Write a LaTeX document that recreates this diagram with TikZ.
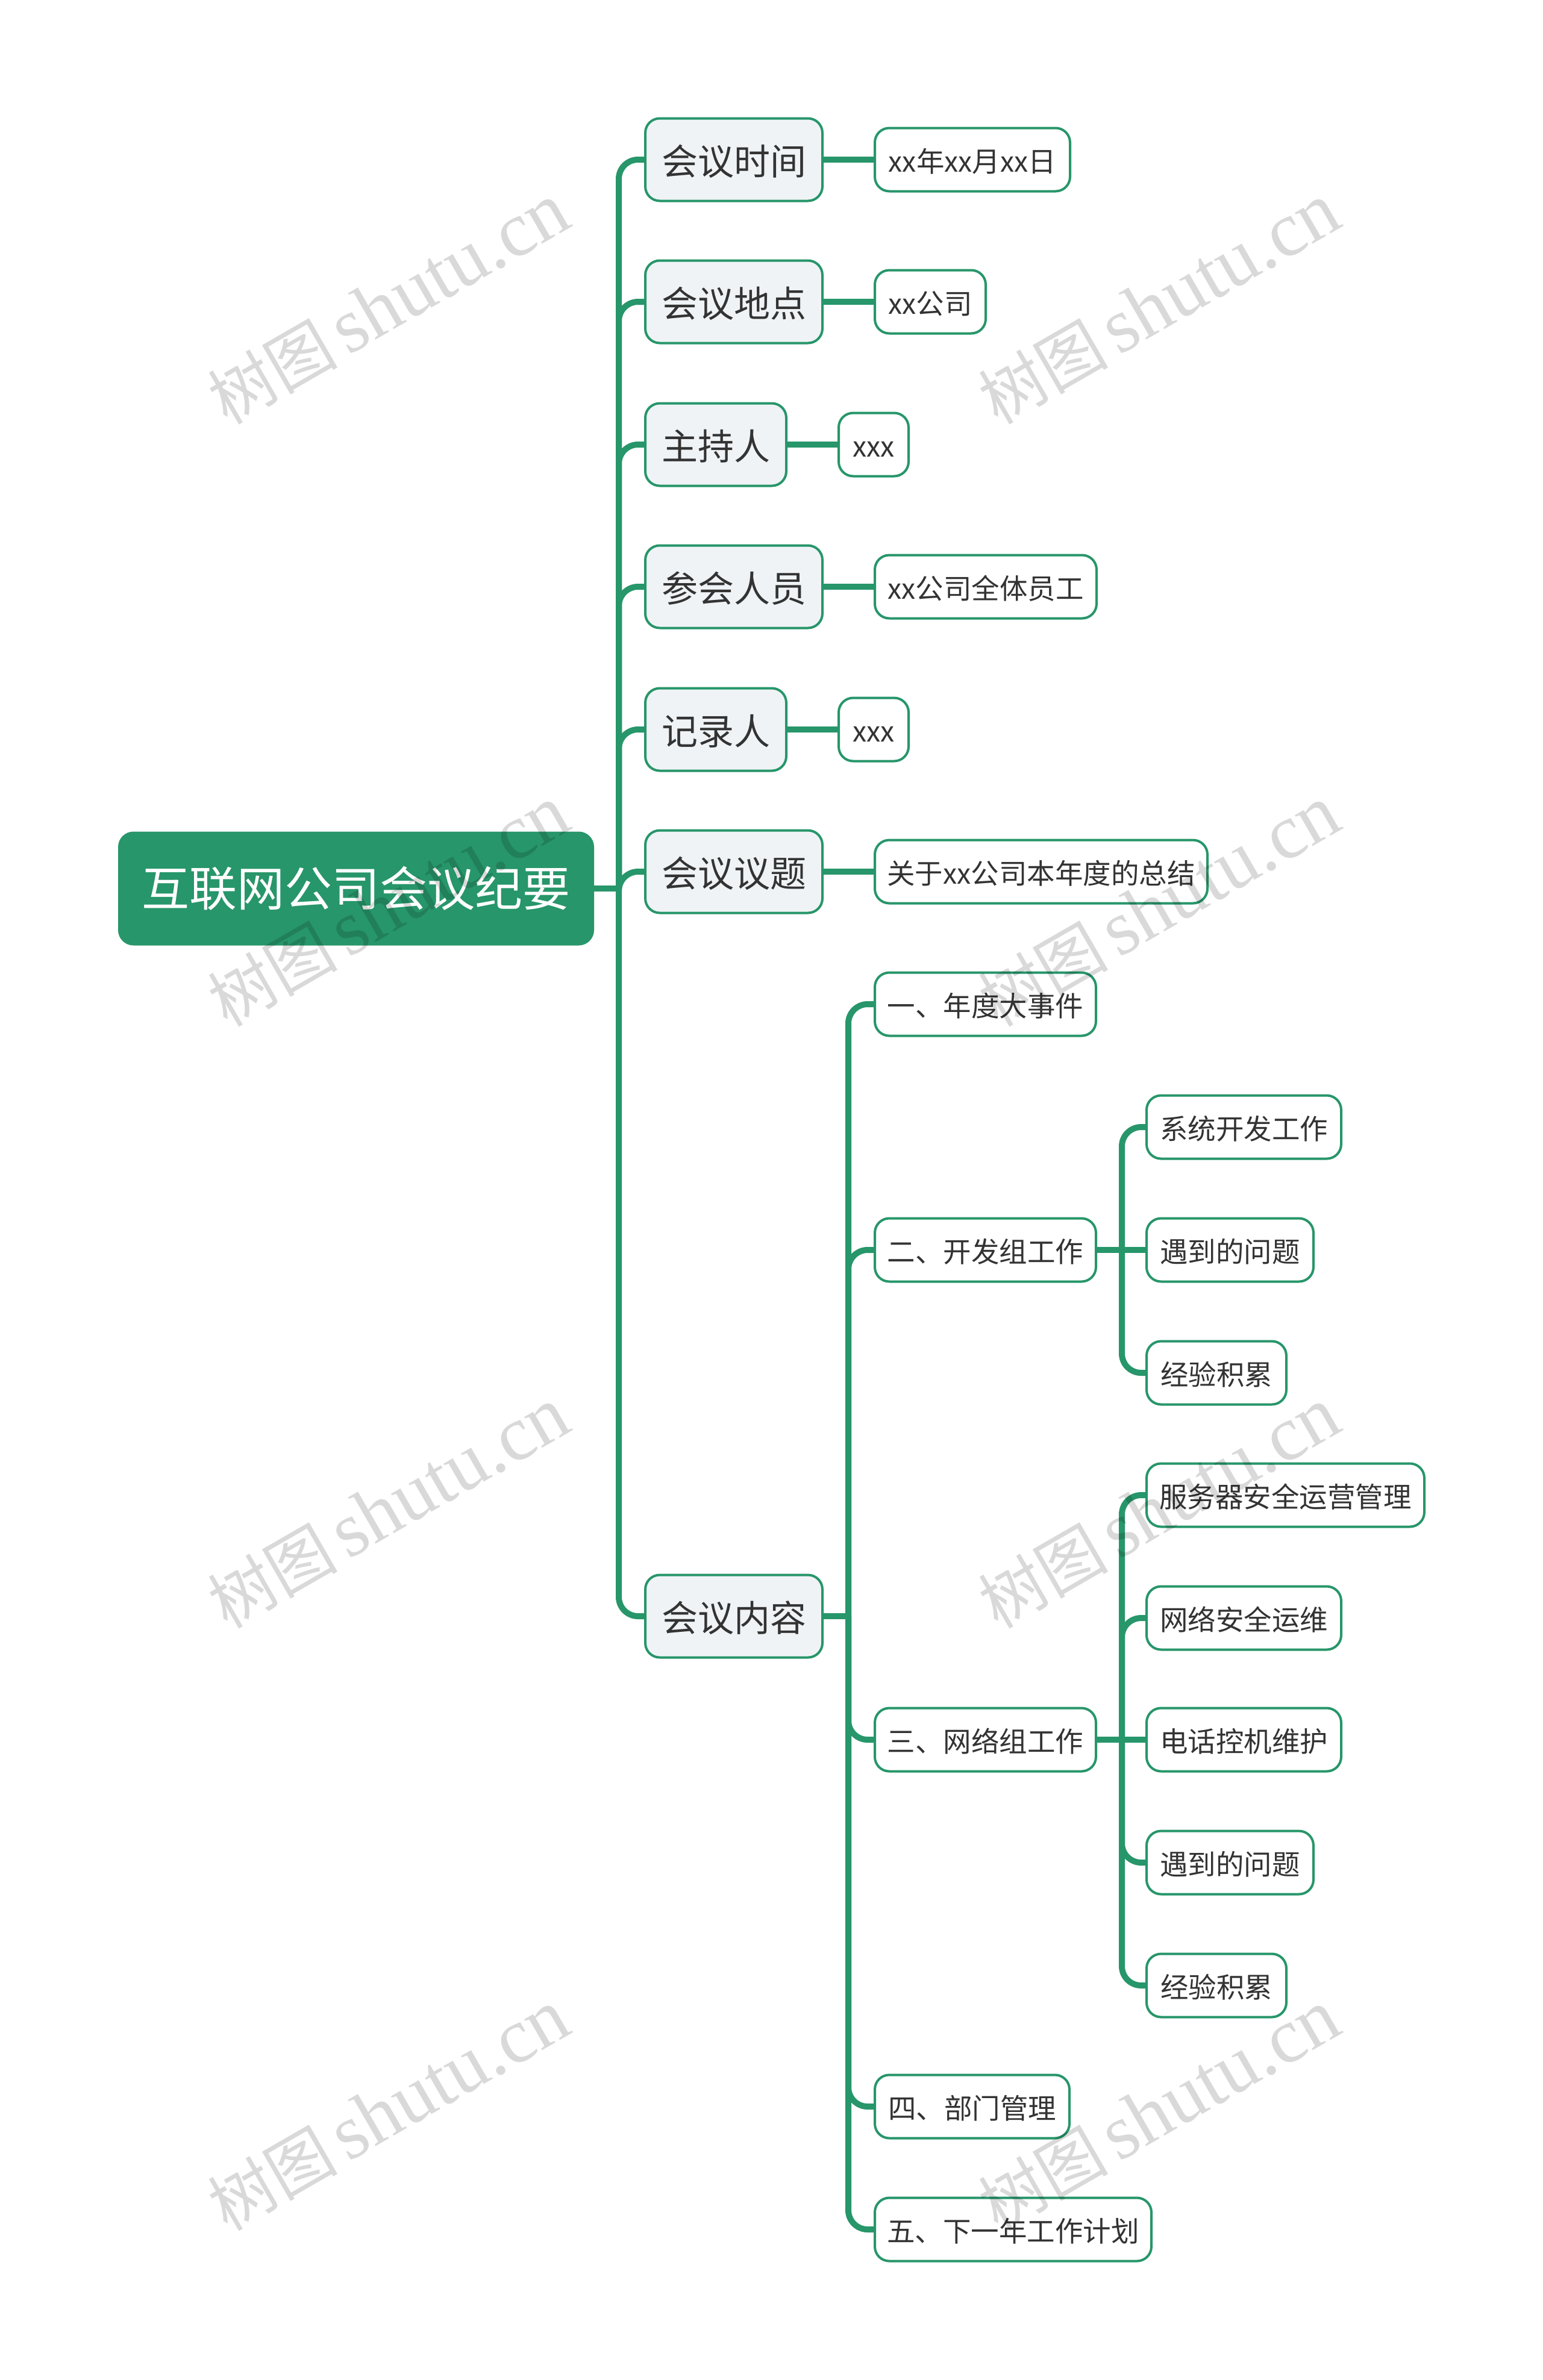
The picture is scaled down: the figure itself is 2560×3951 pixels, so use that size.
\documentclass[tikz,border=0pt]{standalone}
\usepackage{fontspec}
\setmainfont{Noto Sans CJK SC}
\newfontfamily\wmlatin{Liberation Serif}
\newfontfamily\wmcjk{Noto Sans CJK SC}
\definecolor{gr}{HTML}{27966A}
\definecolor{pale}{HTML}{EFF3F6}
\definecolor{ink}{HTML}{333333}
\tikzset{
  rootbox/.style={draw=gr,fill=gr,line width=3pt,rounded corners=24pt,text=white,inner sep=0pt,anchor=west,minimum height=186pt,font=\fontsize{79}{79}\selectfont},
  lone/.style={draw=gr,fill=pale,line width=4pt,rounded corners=24pt,text=ink,inner sep=0pt,anchor=west,minimum height=137pt,text height=56pt,text depth=5pt,font=\fontsize{60}{60}\selectfont},
  ltwo/.style={draw=gr,fill=white,line width=4pt,rounded corners=24pt,text=ink,inner sep=0pt,anchor=west,minimum height=105pt,text height=44pt,text depth=3pt,font=\fontsize{46.5}{46.5}\selectfont},
  conn/.style={draw=gr,line width=10pt,rounded corners=32pt},
  wm/.style={rotate=30,opacity=.15,text=black,inner sep=0pt}
}
\begin{document}
\begin{tikzpicture}[x=1pt,y=-1pt]
\useasboundingbox (0,0) rectangle (2560,3951);
\fill[white] (0,0) rectangle (2560,3951);
\coordinate (t1) at (1027,1475);
\coordinate (t2) at (1408,2683);
\coordinate (t3) at (1862,2075);
\coordinate (t4) at (1862,2888);
\node[rootbox,minimum width=787pt] (root) at (196,1475) {互联网公司会议纪要};
\node[lone,minimum width=294pt] (a1) at (1069,265) {会议时间};
\node[lone,minimum width=294pt] (a2) at (1069,501) {会议地点};
\node[lone,minimum width=234pt] (a3) at (1069,738) {主持人};
\node[lone,minimum width=294pt] (a4) at (1069,974) {参会人员};
\node[lone,minimum width=234pt] (a5) at (1069,1211) {记录人};
\node[lone,minimum width=294pt] (a6) at (1069,1447) {会议议题};
\node[lone,minimum width=294pt] (a7) at (1069,2683) {会议内容};
\node[ltwo,minimum width=324pt] (b1) at (1450,265) {xx年xx月xx日};
\node[ltwo,minimum width=184pt] (b2) at (1450,501) {xx公司};
\node[ltwo,minimum width=116pt] (b3) at (1390,738) {xxx};
\node[ltwo,minimum width=368pt] (b4) at (1450,974) {xx公司全体员工};
\node[ltwo,minimum width=116pt] (b5) at (1390,1211) {xxx};
\node[ltwo,minimum width=552pt] (b6) at (1450,1447) {关于xx公司本年度的总结};
\node[ltwo,minimum width=367pt] (c1) at (1450,1667) {一、年度大事件};
\node[ltwo,minimum width=367pt] (c2) at (1450,2075) {二、开发组工作};
\node[ltwo,minimum width=367pt] (c3) at (1450,2888) {三、网络组工作};
\node[ltwo,minimum width=323pt] (c4) at (1450,3497) {四、部门管理};
\node[ltwo,minimum width=459pt] (c5) at (1450,3701) {五、下一年工作计划};
\node[ltwo,minimum width=323pt] (d1) at (1901,1871) {系统开发工作};
\node[ltwo,minimum width=277pt] (d2) at (1901,2075) {遇到的问题};
\node[ltwo,minimum width=232pt] (d3) at (1901,2279) {经验积累};
\node[ltwo,minimum width=461pt] (e1) at (1901,2482) {服务器安全运营管理};
\node[ltwo,minimum width=323pt] (e2) at (1901,2686) {网络安全运维};
\node[ltwo,minimum width=323pt] (e3) at (1901,2888) {电话控机维护};
\node[ltwo,minimum width=277pt] (e4) at (1901,3092) {遇到的问题};
\node[ltwo,minimum width=232pt] (e5) at (1901,3296) {经验积累};
\draw[conn] (root.east) -- (t1);
\foreach \n in {a1,a2,a3,a4,a5,a6,a7} \draw[conn] (t1) |- (\n.west);
\foreach \n in {1,2,3,4,5,6} \draw[conn] (a\n.east) -- (b\n.west);
\draw[conn] (a7.east) -- (t2);
\foreach \n in {c1,c2,c3,c4,c5} \draw[conn] (t2) |- (\n.west);
\draw[conn] (c2.east) -- (d2.west);
\foreach \n in {d1,d3} \draw[conn] (t3) |- (\n.west);
\draw[conn] (c3.east) -- (e3.west);
\foreach \n in {e1,e2,e4,e5} \draw[conn] (t4) |- (\n.west);
\foreach \i/\x/\y in {1/645/505,2/1924/505,3/645/1505,4/1924/1505,5/645/2504,6/1924/2504,7/645/3504,8/1924/3504}
  \node[wm] (wm\i) at (\x,\y) {{\fontsize{108}{108}\wmcjk 树图}\hspace*{16pt}{\fontsize{129}{129}\selectfont\wmlatin shutu.cn}};
\end{tikzpicture}
\end{document}
